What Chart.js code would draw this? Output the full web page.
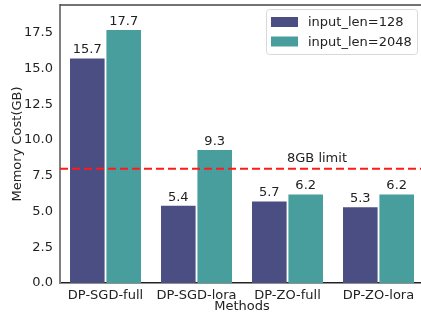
<!DOCTYPE html>
<html>
<head>
<meta charset="utf-8">
<script src="https://cdn.jsdelivr.net/npm/chart.js@4"></script>
<style>
  html, body { margin: 0; padding: 0; background: #fff; }
  #wrap { width: 421px; height: 314px; overflow: hidden; }
</style>
</head>
<body>
<div id="wrap"><canvas id="chart" width="424" height="314"></canvas></div>
<script>
// Memory cost per method, two input lengths
const methods = ['DP-SGD-full', 'DP-SGD-lora', 'DP-ZO-full', 'DP-ZO-lora'];
const len128 = [15.7, 5.4, 5.7, 5.3];
const len2048 = [17.7, 9.3, 6.2, 6.2];
const seriesNames = ['input_len=128', 'input_len=2048'];
const limitValue = 8;
const limitLabel = '8GB limit';

const FONT = '"DejaVu Sans", sans-serif';
const colors = ['#4a4e82', '#479e9d'];

const barLabels = {
    id: 'barLabels',
    afterDatasetsDraw(chart) {
        const ctx = chart.ctx;
        ctx.save();
        ctx.font = '13px ' + FONT;
        ctx.fillStyle = '#222';
        ctx.textAlign = 'center';
        ctx.textBaseline = 'bottom';
        chart.data.datasets.forEach((ds, i) => {
            chart.getDatasetMeta(i).data.forEach((bar, j) => {
                ctx.fillText(ds.data[j].toFixed(1), bar.x, bar.y - 2);
            });
        });
        ctx.restore();
    }
};

const limitLine = {
    id: 'limitLine',
    afterDatasetsDraw(chart) {
        const ctx = chart.ctx;
        const area = chart.chartArea;
        const y = chart.scales.y.getPixelForValue(limitValue);
        ctx.save();
        ctx.strokeStyle = '#ff1a1a';
        ctx.lineWidth = 2;
        ctx.setLineDash([8, 4]);
        ctx.beginPath();
        ctx.moveTo(area.left, y);
        ctx.lineTo(area.right, y);
        ctx.stroke();
        ctx.setLineDash([]);
        ctx.font = '13px ' + FONT;
        ctx.fillStyle = '#222';
        ctx.textAlign = 'center';
        ctx.textBaseline = 'bottom';
        const x = (chart.scales.x.getPixelForValue(2) + chart.scales.x.getPixelForValue(3)) / 2 - 16;
        ctx.fillText(limitLabel, x, y - 4);
        ctx.restore();
    }
};

const frameAndLegend = {
    id: 'frameAndLegend',
    afterDraw(chart) {
        const ctx = chart.ctx;
        const a = chart.chartArea;
        ctx.save();
        ctx.strokeStyle = '#444';
        ctx.lineWidth = 1.5;
        ctx.beginPath();
        ctx.moveTo(a.left, a.top);
        ctx.lineTo(a.right, a.top);
        ctx.stroke();

        // legend box
        const bx = 266.5, by = 9.5, bw = 151, bh = 45;
        ctx.fillStyle = 'rgba(255,255,255,0.85)';
        ctx.strokeStyle = '#d8d8d8';
        ctx.lineWidth = 1;
        ctx.beginPath();
        ctx.roundRect(bx, by, bw, bh, 3);
        ctx.fill();
        ctx.stroke();
        ctx.font = '13px ' + FONT;
        ctx.textAlign = 'left';
        ctx.textBaseline = 'middle';
        seriesNames.forEach((name, i) => {
            const cy = by + 12.5 + i * 19.5;
            ctx.fillStyle = colors[i];
            ctx.fillRect(271, cy - 5, 27, 10);
            ctx.fillStyle = '#222';
            ctx.fillText(name, 308, cy + 1);
        });
        ctx.restore();
    }
};

new Chart(document.getElementById('chart'), {
    type: 'bar',
    data: {
        labels: methods,
        datasets: [
            { label: seriesNames[0], data: len128, backgroundColor: colors[0] },
            { label: seriesNames[1], data: len2048, backgroundColor: colors[1] }
        ]
    },
    options: {
        responsive: false,
        animation: false,
        layout: { padding: { top: 5, right: 0, left: 10, bottom: 0 } },
        datasets: { bar: { categoryPercentage: 0.8, barPercentage: 0.95 } },
        plugins: {
            legend: { display: false },
            tooltip: { enabled: false }
        },
        scales: {
            x: {
                grid: { display: false, drawTicks: true, tickLength: 4, tickColor: '#222' },
                border: { color: '#222', width: 1.5 },
                ticks: { color: '#222', font: { family: FONT, size: 13 }, padding: 1 },
                title: { display: true, text: 'Methods', color: '#222', font: { family: FONT, size: 13 }, padding: 0 },
                afterFit(scale) { scale.height = 31; }
            },
            y: {
                min: 0,
                max: 19.45,
                grid: { display: false, drawTicks: true, tickLength: 4, tickColor: '#333' },
                border: { color: '#808080', width: 2 },
                ticks: {
                    stepSize: 2.5,
                    color: '#222',
                    font: { family: FONT, size: 13 },
                    padding: 3,
                    callback: v => v.toFixed(1)
                },
                afterBuildTicks(scale) {
                    scale.ticks = scale.ticks.filter(t => Math.abs(t.value / 2.5 - Math.round(t.value / 2.5)) < 1e-6);
                },
                title: { display: true, text: 'Memory Cost(GB)', color: '#222', font: { family: FONT, size: 13 }, padding: { top: 0, bottom: 2 } },
                afterFit(scale) {
                    scale.width = 50;
                    scale.paddingTop = 0;
                    scale.paddingBottom = 0;
                }
            }
        }
    },
    plugins: [barLabels, limitLine, frameAndLegend]
});
</script>
</body>
</html>
